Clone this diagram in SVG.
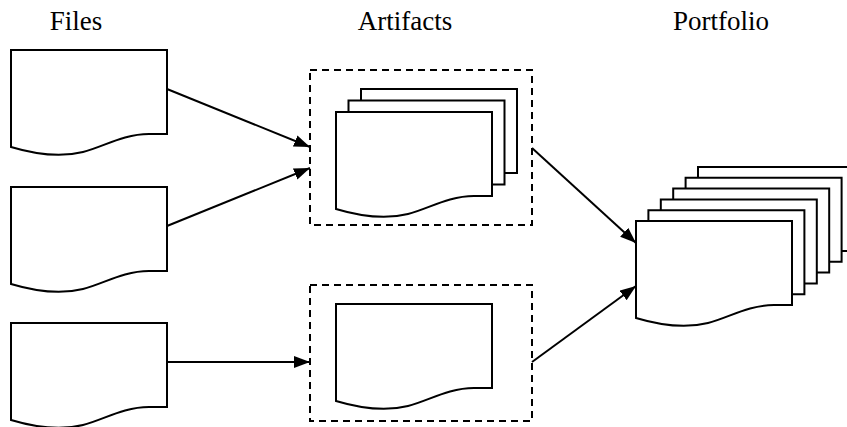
<svg xmlns="http://www.w3.org/2000/svg" width="847" height="427" viewBox="0 0 847 427">
<style>
.doc{fill:#fff;stroke:#000;stroke-width:2;stroke-linejoin:miter}
.box{fill:none;stroke:#000;stroke-width:2;stroke-dasharray:7 5}
.edge{fill:none;stroke:#000;stroke-width:2}
.title{font-family:"Liberation Serif","Times New Roman",serif;font-size:27px;fill:#000;text-anchor:middle}
</style>
<defs>
<path id="d" d="M0,0 H156 V84 H138 C112,84 92,97 72,102 C52,107 30,106 0,97 Z"/>
<marker id="ah" markerUnits="userSpaceOnUse" markerWidth="17" markerHeight="13" refX="16" refY="6" orient="auto">
<path d="M0,0 L16,6 L0,12 Z" fill="#000"/>
</marker>
</defs>
<g id="titles">
<text class="title" x="76" y="30">Files</text>
<text class="title" x="405" y="30">Artifacts</text>
<text class="title" x="721" y="30">Portfolio</text>
</g>
<g id="file1"><use href="#d" class="doc" transform="translate(11,50)"/></g>
<g id="file2"><use href="#d" class="doc" transform="translate(11,187)"/></g>
<g id="file3"><use href="#d" class="doc" transform="translate(11,323)"/></g>
<g id="artifact1">
<rect class="box" x="310" y="70" width="222" height="155"/>
<use href="#d" class="doc" transform="translate(361,89)"/>
<use href="#d" class="doc" transform="translate(348.5,100.5)"/>
<use href="#d" class="doc" transform="translate(336,112)"/>
</g>
<g id="artifact2">
<rect class="box" x="310" y="285" width="222" height="136"/>
<use href="#d" class="doc" transform="translate(336,304)"/>
</g>
<g id="portfolio">
<use href="#d" class="doc" transform="translate(698,167)"/>
<use href="#d" class="doc" transform="translate(685.6,177.8)"/>
<use href="#d" class="doc" transform="translate(673.2,188.6)"/>
<use href="#d" class="doc" transform="translate(660.8,199.4)"/>
<use href="#d" class="doc" transform="translate(648.4,210.2)"/>
<use href="#d" class="doc" transform="translate(636,221)"/>
</g>
<g id="connectors">
<line class="edge" x1="167" y1="89" x2="310" y2="147" marker-end="url(#ah)"/>
<line class="edge" x1="167" y1="226" x2="310" y2="168" marker-end="url(#ah)"/>
<line class="edge" x1="167" y1="362" x2="310" y2="362" marker-end="url(#ah)"/>
<line class="edge" x1="532" y1="148" x2="636" y2="243" marker-end="url(#ah)"/>
<line class="edge" x1="532" y1="362" x2="636" y2="286" marker-end="url(#ah)"/>
</g>
</svg>
